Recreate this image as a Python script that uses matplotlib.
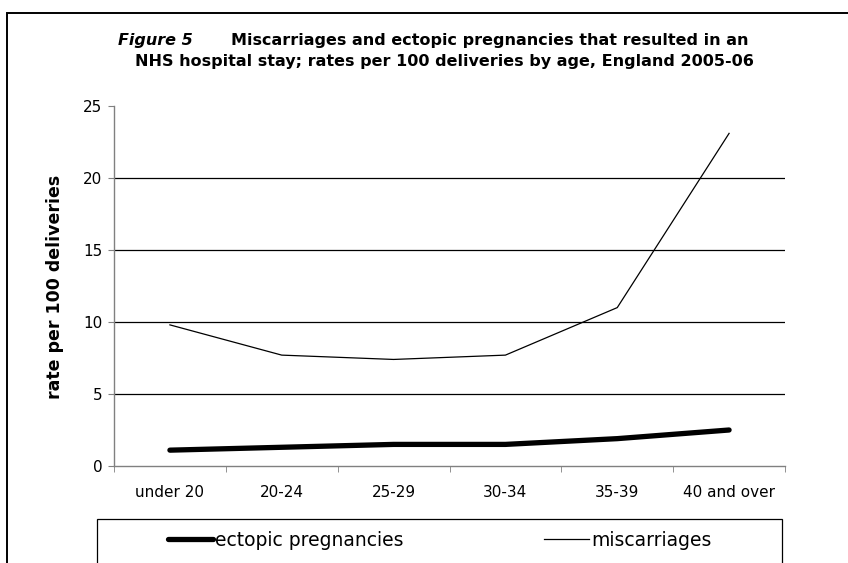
import matplotlib
matplotlib.use("Agg")
import matplotlib.pyplot as plt
from matplotlib.patches import Rectangle

# data
ages = ["under 20", "20-24", "25-29", "30-34", "35-39", "40 and over"]
ectopic = [1.1, 1.3, 1.5, 1.5, 1.9, 2.5]
miscarriages = [9.8, 7.7, 7.4, 7.7, 11.0, 23.1]
yticks = [0, 5, 10, 15, 20, 25]

plt.rcParams["font.family"] = ["DejaVu Sans"]

W, H = 848, 563
fig = plt.figure(figsize=(W / 100, H / 100), dpi=100)
ax = fig.add_axes([114 / W, 1 - 466 / H, (785 - 114) / W, (466 - 106) / H])

x = list(range(len(ages)))
l_ect, = ax.plot(x, ectopic, color="black", linewidth=3.8,
                 solid_capstyle="round", solid_joinstyle="round",
                 label="ectopic pregnancies", zorder=3)
l_mis, = ax.plot(x, miscarriages, color="black", linewidth=0.9,
                 label="miscarriages", zorder=3)

ax.set_xlim(-0.5, len(ages) - 0.5)
ax.set_ylim(0, 25)
ax.set_yticks(yticks)
ax.set_xticks(x)
ax.set_xticklabels(ages)
ax.set_xticks([i - 0.5 for i in range(len(ages) + 1)], minor=True)

ax.tick_params(axis="x", which="major", length=0, pad=14, labelsize=11)
ax.tick_params(axis="x", which="minor", length=4.5, color="#808080", direction="out")
ax.tick_params(axis="y", length=4.5, color="#808080", pad=4, labelsize=11)

for s in ("top", "right"):
    ax.spines[s].set_visible(False)
for s in ("left", "bottom"):
    ax.spines[s].set_color("#808080")
    ax.spines[s].set_linewidth(1.0)

ax.yaxis.grid(True, color="black", linewidth=0.9)
ax.set_axisbelow(True)
ax.yaxis.get_gridlines()[0].set_visible(False)
ax.yaxis.get_gridlines()[-1].set_visible(False)

ax.set_ylabel("rate per 100 deliveries", fontsize=12.5, fontweight="bold")
ax.yaxis.set_label_coords(64 / W, 1 - 287 / H, transform=fig.transFigure)

# title, two lines
fig.text(118 / W, 1 - 40 / H, "Figure 5", fontsize=11.5, fontweight="bold",
         fontstyle="italic", va="center", ha="left")
fig.text(231 / W, 1 - 40 / H, "Miscarriages and ectopic pregnancies that resulted in an",
         fontsize=11.5, fontweight="bold", va="center", ha="left")
fig.text(444 / W, 1 - 61 / H,
         "NHS hospital stay; rates per 100 deliveries by age, England 2005-06",
         fontsize=11.5, fontweight="bold", va="center", ha="center")

# outer chart frame (runs off the right and bottom edge)
fig.add_artist(Rectangle((7 / W, -0.1), 1.2, 1 - 13 / H + 0.1, transform=fig.transFigure,
                         fill=False, edgecolor="black", linewidth=1.4))

# legend frame (cut off at the bottom)
fig.add_artist(Rectangle((97 / W, -0.1), (782 - 97) / W, (563 - 519) / H + 0.1,
                         transform=fig.transFigure, fill=False,
                         edgecolor="black", linewidth=0.9))

fig.legend(handles=[l_ect, l_mis], loc="center left",
           bbox_to_anchor=(168 / W, 1 - 540 / H), ncol=2, frameon=False,
           fontsize=13.5, handlelength=2.4, handletextpad=0.1,
           columnspacing=7.5, borderpad=0, borderaxespad=0)

fig.savefig("out.png", dpi=100)
